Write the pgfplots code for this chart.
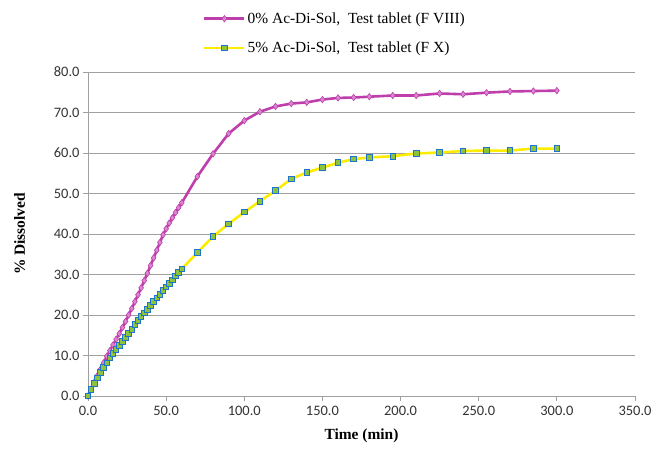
\documentclass[border=0pt]{standalone}
\usepackage{fontspec}
\setmainfont{Liberation Serif}
\newfontfamily\tickfont{Carlito}
\usepackage{pgfplots}
\pgfplotsset{compat=1.18}
\definecolor{mag}{RGB}{190,62,172}
\definecolor{magfill}{RGB}{218,135,208}
\definecolor{yel}{RGB}{252,236,0}
\definecolor{sqedge}{RGB}{30,115,205}
\definecolor{sqfill}{RGB}{140,195,60}
\definecolor{gridgray}{RGB}{160,160,160}
\begin{document}
\begin{tikzpicture}[x=1bp,y=1bp]
\begin{axis}[
  scale only axis,
  width=547bp, height=324bp,
  xmin=0, xmax=350, ymin=0, ymax=80,
  xtick={0,50,...,350}, ytick={0,10,...,80},
  axis x line=bottom, axis y line=left,
  axis line style={gridgray,-, line width=0.8pt},
  tick style={gridgray, line width=0.8pt},
  tick align=outside, major tick length=5bp,
  ymajorgrids, grid style={gridgray, line width=0.9pt},
  /pgf/number format/.cd, fixed, fixed zerofill, precision=1, assume math mode=true,
  /pgfplots/.cd,
  ticklabel style={font=\tickfont\fontsize{14.5}{16}\selectfont, text=black!80},
  xticklabel style={yshift=-2bp},
  xlabel={\textbf{Time (min)}},
  ylabel={\textbf{\% Dissolved}},
  label style={font=\fontsize{15.5}{17}\selectfont},
  xlabel style={at={(axis description cs:0.5,-0.09)}, anchor=north},
  ylabel style={at={(axis description cs:-0.125,0.5)}, anchor=center},
  legend style={at={(axis description cs:0.21,1.19)}, anchor=north west, draw=none, fill=none,
    font=\fontsize{15.5}{17}\selectfont, row sep=13bp, inner sep=0pt},
  legend cell align=left,
  legend image code/.code={\draw[#1] (0bp,0bp) -- (20bp,0bp) plot coordinates {(20bp,0bp)} -- (40bp,0bp);},
]
\addplot[mag, line width=2.6pt, mark=diamond*, mark size=3.2bp, mark options={fill=magfill, draw=mag, line width=0.6pt}] coordinates {
(0,0) (2,1.7) (4,3.4) (6,5.0) (8,6.6) (10,8.2) (12,9.8) (14,11.2) (16,12.6) (18,14.0)
(20,15.4) (22,16.9) (24,18.4) (26,20.0) (28,21.6) (30,23.3) (32,25.0) (34,26.7) (36,28.5) (38,30.3)
(40,32.2) (42,34.1) (44,36.0) (46,37.9) (48,39.8) (50,41.3) (52,42.7) (54,44.0) (56,45.3) (58,46.5)
(60,47.7) (70,54.2) (80,59.8) (90,64.8) (100,68.0) (110,70.2) (120,71.5) (130,72.2) (140,72.5)
(150,73.2) (160,73.6) (170,73.7) (180,73.9) (195,74.2) (210,74.2) (225,74.7) (240,74.5) (255,74.9)
(270,75.2) (285,75.3) (300,75.4)
};
\addlegendentry{0\% Ac-Di-Sol,\ \ Test tablet (F VIII)}
\addplot[yel, line width=2.6pt, mark=square*, mark size=2.8bp, mark options={fill=sqfill, draw=sqedge, line width=0.9pt}] coordinates {
(0,0) (2,1.6) (4,3.1) (6,4.5) (8,5.8) (10,7.0) (12,8.2) (14,9.4) (16,10.5) (18,11.5)
(20,12.5) (22,13.5) (24,14.5) (26,15.5) (28,16.5) (30,17.6) (32,18.6) (34,19.6) (36,20.5) (38,21.4)
(40,22.4) (42,23.3) (44,24.2) (46,25.1) (48,26.0) (50,26.9) (52,27.8) (54,28.7) (56,29.6) (58,30.5)
(60,31.4) (70,35.4) (80,39.4) (90,42.5) (100,45.4) (110,48.1) (120,50.7) (130,53.6) (140,55.2)
(150,56.4) (160,57.6) (170,58.5) (180,58.9) (195,59.2) (210,59.9) (225,60.1) (240,60.5) (255,60.6)
(270,60.6) (285,61.1) (300,61.1)
};
\addlegendentry{5\% Ac-Di-Sol,\ \ Test tablet (F X)}
\end{axis}
\pgfresetboundingbox
\useasboundingbox (current axis.south west) ++(-88bp,-56bp) rectangle ++(656bp,452bp);
\end{tikzpicture}
\end{document}
